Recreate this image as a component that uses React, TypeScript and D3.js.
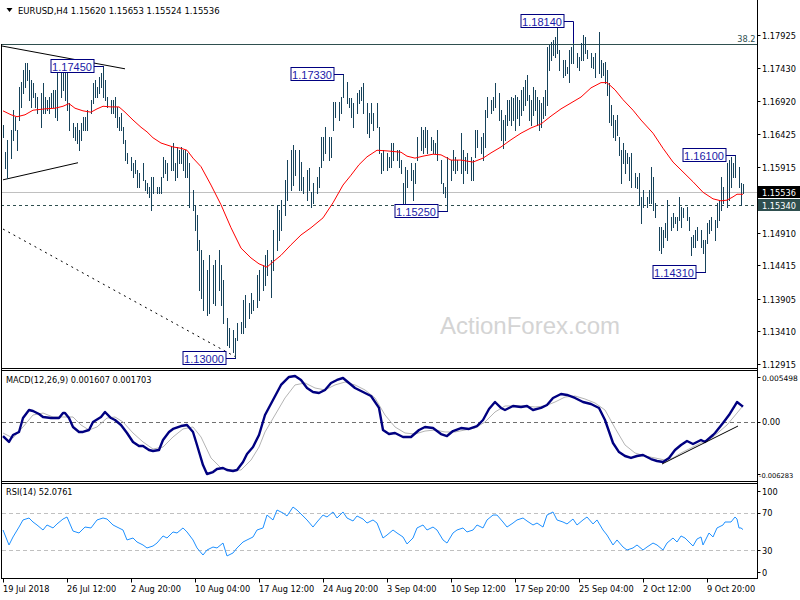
import React from 'react';
import * as d3 from 'd3';

// ---------- DATA ----------
// bar number (4h bars since 19 Jul 2018), high, low
const priceBars: [number, number, number][] = [
  [0,1.1655,1.1637],[1,1.1614,1.1590],[2,1.1633,1.1575],[4,1.1648,1.1605],[5,1.1678,1.1633],
  [6,1.1668,1.1648],[7,1.1648,1.1617],[8,1.1713,1.1663],[9,1.1721,1.1683],[10,1.1739,1.1704],
  [11,1.1750,1.1713],[12,1.1750,1.1724],[13,1.1739,1.1694],[14,1.1724,1.1683],[15,1.1720,1.1698],
  [16,1.1704,1.1683],[17,1.1698,1.1674],[19,1.1704,1.1652],[20,1.1720,1.1674],[21,1.1698,1.1674],
  [22,1.1694,1.1678],[23,1.1698,1.1674],[24,1.1704,1.1683],[25,1.1709,1.1683],[26,1.1709,1.1668],
  [27,1.1739,1.1663],[29,1.1750,1.1698],[30,1.1739,1.1709],[31,1.1735,1.1694],[32,1.1745,1.1678],
  [33,1.1689,1.1648],[35,1.1658,1.1637],[36,1.1652,1.1633],[37,1.1658,1.1628],[38,1.1648,1.1617],
  [39,1.1658,1.1633],[40,1.1668,1.1648],[41,1.1668,1.1648],[42,1.1678,1.1648],[44,1.1694,1.1674],
  [45,1.1720,1.1689],[46,1.1724,1.1698],[47,1.1713,1.1698],[48,1.1728,1.1704],[49,1.1735,1.1713],
  [50,1.1745,1.1698],[51,1.1724,1.1694],[52,1.1698,1.1683],[54,1.1694,1.1674],[55,1.1694,1.1674],
  [56,1.1698,1.1668],[57,1.1683,1.1652],[58,1.1668,1.1648],[59,1.1674,1.1648],[60,1.1652,1.1628],
  [61,1.1633,1.1602],[62,1.1613,1.1598],[64,1.1607,1.1587],[65,1.1598,1.1576],[66,1.1602,1.1582],
  [67,1.1587,1.1561],[68,1.1582,1.1561],[70,1.1598,1.1572],[71,1.1572,1.1556],[72,1.1567,1.1552],
  [73,1.1561,1.1546],[74,1.1576,1.1526],[75,1.1576,1.1552],[77,1.1561,1.1552],[78,1.1561,1.1552],
  [79,1.1576,1.1552],[80,1.1607,1.1576],[81,1.1602,1.1582],[82,1.1598,1.1572],[84,1.1622,1.1587],
  [85,1.1628,1.1587],[86,1.1598,1.1572],[87,1.1622,1.1576],[88,1.1617,1.1598],[89,1.1622,1.1598],
  [90,1.1617,1.1587],[91,1.1617,1.1576],[92,1.1613,1.1576],[93,1.1598,1.1531],[95,1.1556,1.1526],
  [96,1.1534,1.1496],[97,1.1518,1.1465],[98,1.1480,1.1404],[99,1.1465,1.1392],[100,1.1450,1.1373],
  [102,1.1434,1.1366],[103,1.1458,1.1369],[105,1.1442,1.1384],[106,1.1450,1.1381],[108,1.1465,1.1404],
  [109,1.1442,1.1381],[110,1.1419,1.1354],[112,1.1361,1.1320],[113,1.1346,1.1317],[115,1.1343,1.1310],
  [116,1.1331,1.1300],[117,1.1354,1.1328],[119,1.1355,1.1338],[120,1.1389,1.1338],[121,1.1397,1.1348],
  [123,1.1384,1.1361],[124,1.1400,1.1369],[125,1.1389,1.1373],[127,1.1427,1.1378],[128,1.1434,1.1389],
  [130,1.1442,1.1404],[131,1.1458,1.1412],[132,1.1465,1.1427],[134,1.1450,1.1393],[135,1.1496,1.1434],
  [137,1.1534,1.1465],[138,1.1526,1.1480],[139,1.1541,1.1496],[141,1.1572,1.1518],[142,1.1602,1.1541],
  [144,1.1617,1.1556],[145,1.1625,1.1564],[146,1.1617,1.1579],[148,1.1617,1.1556],[149,1.1599,1.1556],
  [150,1.1576,1.1552],[152,1.1587,1.1541],[153,1.1590,1.1556],[154,1.1553,1.1531],[155,1.1567,1.1537],
  [157,1.1576,1.1552],[158,1.1592,1.1561],[159,1.1637,1.1592],[160,1.1637,1.1602],[161,1.1652,1.1613],
  [163,1.1637,1.1602],[164,1.1637,1.1607],[165,1.1690,1.1648],[166,1.1690,1.1668],[168,1.1690,1.1663],
  [169,1.1698,1.1674],[170,1.1733,1.1698],[172,1.1721,1.1689],[173,1.1696,1.1683],[174,1.1696,1.1668],
  [175,1.1689,1.1652],[177,1.1704,1.1674],[178,1.1709,1.1689],[179,1.1713,1.1694],[180,1.1720,1.1674],
  [182,1.1689,1.1643],[183,1.1674,1.1637],[184,1.1689,1.1658],[185,1.1674,1.1648],[187,1.1689,1.1652],
  [188,1.1652,1.1613],[189,1.1613,1.1582],[190,1.1617,1.1587],[192,1.1613,1.1587],[193,1.1607,1.1592],
  [194,1.1628,1.1592],[195,1.1628,1.1602],[197,1.1617,1.1602],[198,1.1617,1.1592],[199,1.1602,1.1582],
  [200,1.1567,1.1537],[201,1.1592,1.1531],[202,1.1587,1.1561],[204,1.1598,1.1572],[205,1.1587,1.1541],
  [206,1.1598,1.1567],[207,1.1637,1.1602],[209,1.1652,1.1617],[210,1.1648,1.1613],[211,1.1652,1.1622],
  [212,1.1648,1.1613],[214,1.1637,1.1617],[215,1.1633,1.1613],[216,1.1628,1.1613],[217,1.1648,1.1602],
  [219,1.1602,1.1567],[220,1.1567,1.1552],[221,1.1561,1.1546],[222,1.1607,1.1525],[224,1.1602,1.1572],
  [225,1.1617,1.1587],[226,1.1607,1.1582],[227,1.1602,1.1587],[229,1.1643,1.1582],[230,1.1617,1.1567],
  [231,1.1607,1.1587],[232,1.1613,1.1582],[234,1.1607,1.1572],[235,1.1602,1.1572],[236,1.1648,1.1607],
  [237,1.1648,1.1622],[239,1.1637,1.1613],[240,1.1643,1.1602],[241,1.1678,1.1622],[242,1.1698,1.1668],
  [244,1.1694,1.1674],[245,1.1698,1.1678],[246,1.1720,1.1683],[248,1.1704,1.1663],[249,1.1678,1.1633],
  [250,1.1663,1.1620],[251,1.1671,1.1633],[252,1.1694,1.1655],[253,1.1694,1.1663],[254,1.1698,1.1655],
  [255,1.1696,1.1663],[256,1.1701,1.1648],[257,1.1698,1.1666],[258,1.1694,1.1655],[259,1.1709,1.1671],
  [260,1.1713,1.1678],[261,1.1724,1.1686],[262,1.1732,1.1694],[263,1.1701,1.1663],[264,1.1694,1.1655],
  [265,1.1713,1.1671],[266,1.1709,1.1678],[267,1.1698,1.1655],[268,1.1694,1.1648],[269,1.1689,1.1652],
  [270,1.1698,1.1666],[271,1.1709,1.1671],[272,1.1774,1.1686],[273,1.1777,1.1739],[274,1.1782,1.1754],
  [275,1.1785,1.1762],[276,1.1789,1.1759],[277,1.1805,1.1765],[278,1.1770,1.1739],[280,1.1754,1.1728],
  [281,1.1754,1.1732],[282,1.1744,1.1735],[283,1.1770,1.1721],[284,1.1774,1.1750],[285,1.1780,1.1750],
  [287,1.1765,1.1744],[288,1.1759,1.1739],[289,1.1780,1.1754],[290,1.1793,1.1754],[291,1.1789,1.1765],
  [292,1.1770,1.1757],[294,1.1765,1.1744],[295,1.1759,1.1742],[296,1.1765,1.1728],[298,1.1797,1.1735],
  [299,1.1754,1.1728],[300,1.1750,1.1732],[301,1.1751,1.1720],[302,1.1739,1.1701],[303,1.1720,1.1660],
  [304,1.1686,1.1655],[305,1.1671,1.1637],[306,1.1663,1.1633],[307,1.1671,1.1640],[308,1.1637,1.1610],
  [309,1.1617,1.1567],[310,1.1628,1.1598],[311,1.1617,1.1582],[312,1.1613,1.1598],[313,1.1607,1.1572],
  [314,1.1613,1.1561],[316,1.1582,1.1561],[317,1.1576,1.1560],[318,1.1582,1.1534],[319,1.1546,1.1506],
  [320,1.1556,1.1531],[322,1.1546,1.1531],[323,1.1556,1.1537],[324,1.1592,1.1537],[325,1.1576,1.1526],
  [326,1.1537,1.1515],[328,1.1500,1.1465],[329,1.1500,1.1461],[330,1.1496,1.1470],[331,1.1506,1.1485],
  [332,1.1541,1.1480],[334,1.1515,1.1496],[335,1.1521,1.1500],[336,1.1515,1.1506],[337,1.1515,1.1496],
  [338,1.1546,1.1511],[339,1.1531,1.1500],[340,1.1529,1.1515],[342,1.1531,1.1511],[343,1.1515,1.1496],
  [344,1.1485,1.1458],[345,1.1488,1.1470],[346,1.1496,1.1470],[347,1.1500,1.1480],[349,1.1496,1.1470],
  [350,1.1480,1.1461],[351,1.1480,1.1431],[352,1.1506,1.1476],[353,1.1511,1.1491],[354,1.1515,1.1496],
  [356,1.1511,1.1480],[357,1.1537,1.1500],[358,1.1541,1.1511],[359,1.1576,1.1526],[360,1.1561,1.1537],
  [362,1.1598,1.1531],[363,1.1602,1.1541],[364,1.1607,1.1561],[365,1.1598,1.1576],[366,1.1610,1.1576],
  [368,1.1592,1.1561],[369,1.1567,1.1534],[370,1.15653,1.15524],
];

const movingAverage: [number, number][] = [
  [0,1.1677],[4,1.1671],[7,1.1668],[11,1.1671],[15,1.1678],[21,1.1680],[26,1.1681],[30,1.1684],
  [33,1.1688],[36,1.1681],[40,1.1677],[44,1.1675],[47,1.1680],[50,1.1684],[54,1.1683],[58,1.1683],
  [61,1.1675],[65,1.1663],[69,1.1652],[72,1.1645],[75,1.1636],[79,1.1628],[82,1.1625],[85,1.1622],
  [89,1.1620],[92,1.1617],[95,1.1605],[99,1.1592],[104,1.1564],[109,1.1534],[114,1.1499],[119,1.1468],
  [124,1.1453],[128,1.1444],[132,1.1439],[135,1.1447],[139,1.1457],[144,1.1473],[149,1.1488],[154,1.1499],
  [160,1.1514],[165,1.1537],[170,1.1564],[174,1.1579],[178,1.1595],[182,1.1607],[187,1.1617],[192,1.1616],
  [199,1.1614],[202,1.1608],[206,1.1605],[210,1.1608],[215,1.1611],[219,1.1610],[224,1.1602],[229,1.1602],
  [235,1.1599],[240,1.1605],[244,1.1613],[249,1.1622],[254,1.1633],[259,1.1643],[264,1.1651],[269,1.1657],
  [274,1.1669],[279,1.1680],[289,1.1698],[294,1.1712],[299,1.1720],[302,1.1720],[306,1.1709],[310,1.1694],
  [315,1.1678],[319,1.1663],[325,1.1643],[330,1.1620],[335,1.1599],[340,1.1584],[345,1.1569],[350,1.1553],
  [355,1.1543],[359,1.1540],[362,1.1541],[365,1.1546],[367,1.1550],[370,1.1550],
];

const macdMain: [number, number][] = [
  [0,-0.00151],[3,-0.00214],[5,-0.00140],[8,-0.00108],[10,0.00040],[13,0.00125],[15,0.00115],[18,0.00083],
  [20,0.00051],[24,0.00040],[28,0.00040],[30,0.00093],[31,0.00093],[33,0.00040],[35,-0.00055],[38,-0.00108],
  [40,-0.00108],[43,-0.00087],[45,-0.00002],[49,0.00051],[51,0.00104],[54,0.00040],[56,0.00019],[59,-0.00034],
  [62,-0.00119],[65,-0.00214],[68,-0.00257],[70,-0.00257],[73,-0.00299],[75,-0.00310],[78,-0.00299],[80,-0.00193],
  [83,-0.00108],[85,-0.00076],[89,-0.00045],[92,-0.00034],[95,-0.00108],[97,-0.00246],[100,-0.00459],[102,-0.00554],
  [105,-0.00533],[107,-0.00501],[110,-0.00490],[112,-0.00512],[115,-0.00522],[117,-0.00512],[120,-0.00427],[122,-0.00342],
  [125,-0.00268],[128,-0.00140],[131,0.00072],[135,0.00231],[139,0.00391],[143,0.00476],[146,0.00486],[149,0.00444],
  [152,0.00359],[155,0.00316],[158,0.00306],[161,0.00338],[164,0.00412],[167,0.00444],[170,0.00465],[173,0.00412],
  [176,0.00359],[180,0.00316],[184,0.00274],[188,0.00147],[190,-0.00087],[193,-0.00130],[196,-0.00119],[200,-0.00161],
  [204,-0.00161],[208,-0.00087],[211,-0.00055],[215,-0.00066],[219,-0.00130],[222,-0.00151],[225,-0.00098],[229,-0.00066],
  [233,-0.00076],[237,-0.00045],[240,0.00019],[243,0.00136],[246,0.00210],[249,0.00147],[251,0.00125],[255,0.00168],
  [259,0.00157],[262,0.00168],[265,0.00125],[269,0.00147],[272,0.00178],[275,0.00253],[279,0.00295],[282,0.00285],
  [286,0.00253],[290,0.00210],[294,0.00189],[298,0.00147],[301,0.00019],[305,-0.00225],[308,-0.00321],[311,-0.00363],
  [314,-0.00384],[317,-0.00363],[320,-0.00352],[324,-0.00395],[327,-0.00416],[330,-0.00427],[333,-0.00384],[336,-0.00299],
  [339,-0.00246],[342,-0.00204],[345,-0.00236],[349,-0.00193],[351,-0.00214],[355,-0.00140],[356,-0.00119],[360,-0.00013],
  [363,0.00072],[367,0.00210],[370,0.001607],
];

const macdSignal: [number, number][] = [
  [0,-0.00119],[5,-0.00172],[10,-0.00055],[15,0.00072],[20,0.00093],[25,0.00051],[30,0.00051],[35,0.00051],
  [39,-0.00034],[43,-0.00087],[47,-0.00055],[52,0.00040],[56,0.00051],[60,-0.00002],[65,-0.00119],[70,-0.00214],
  [75,-0.00289],[80,-0.00268],[85,-0.00161],[90,-0.00076],[95,-0.00055],[99,-0.00161],[104,-0.00384],[109,-0.00490],
  [114,-0.00512],[119,-0.00512],[124,-0.00406],[128,-0.00268],[131,-0.00108],[136,0.00072],[141,0.00253],[146,0.00391],
  [151,0.00412],[156,0.00359],[161,0.00338],[166,0.00391],[171,0.00422],[176,0.00391],[181,0.00338],[186,0.00253],
  [191,0.00072],[196,-0.00055],[201,-0.00119],[206,-0.00130],[211,-0.00098],[216,-0.00087],[221,-0.00108],[226,-0.00108],
  [231,-0.00087],[236,-0.00066],[241,-0.00002],[246,0.00104],[251,0.00168],[256,0.00168],[261,0.00168],[266,0.00157],
  [271,0.00168],[276,0.00210],[281,0.00263],[286,0.00274],[291,0.00242],[296,0.00200],[301,0.00125],[306,-0.00066],
  [311,-0.00246],[316,-0.00331],[321,-0.00363],[326,-0.00384],[331,-0.00406],[335,-0.00384],[339,-0.00331],[349,-0.00225],
  [355,-0.00161],[362,-0.00034],[367,0.00093],[370,0.001703],
];

const rsiValues: [number, number][] = [
  [0,51.6],[3,35.5],[5,44.1],[8,54.8],[10,62.4],[13,64.5],[15,60.2],[17,57.0],[20,51.6],[22,57.0],
  [25,53.8],[27,58.1],[30,63.4],[32,65.6],[35,50.5],[38,48.4],[41,54.8],[44,53.8],[47,62.4],[50,64.5],
  [52,63.4],[55,57.0],[57,54.8],[60,51.6],[62,40.9],[65,43.0],[67,38.7],[70,35.5],[72,32.3],[75,34.4],
  [77,37.6],[80,45.2],[82,43.0],[85,49.5],[87,48.4],[90,53.8],[92,49.5],[95,40.9],[97,32.3],[100,24.7],
  [102,30.1],[105,33.3],[107,32.3],[110,37.6],[112,23.7],[115,26.9],[117,32.3],[120,38.7],[122,40.9],[125,44.1],
  [127,51.6],[130,53.8],[132,67.7],[135,62.4],[137,73.1],[140,69.9],[142,66.7],[145,76.3],[147,73.1],[150,66.7],
  [152,62.4],[155,54.8],[157,60.2],[160,67.7],[162,65.6],[165,71.0],[167,64.5],[170,71.0],[172,64.5],[175,61.3],
  [177,66.7],[180,63.4],[182,59.1],[185,62.4],[187,59.1],[190,43.0],[192,46.2],[195,51.6],[197,48.4],[200,44.1],
  [202,36.6],[205,43.0],[207,53.8],[210,57.0],[212,51.6],[215,54.8],[217,51.6],[220,40.9],[222,37.6],[225,48.4],
  [227,51.6],[230,53.8],[232,49.5],[235,51.6],[237,57.0],[240,53.8],[242,62.4],[245,67.7],[247,67.7],[250,60.2],
  [252,54.8],[255,59.1],[257,62.4],[260,64.5],[262,61.3],[265,57.0],[267,59.1],[270,54.8],[272,67.7],[275,71.0],
  [277,62.4],[280,60.2],[282,58.1],[285,63.4],[287,57.0],[290,62.4],[292,65.6],[295,58.1],[297,62.4],[300,51.6],
  [302,46.2],[305,35.5],[307,40.9],[310,33.3],[312,30.1],[315,32.3],[317,35.5],[320,30.1],[322,33.3],[325,37.6],
  [327,35.5],[330,30.1],[332,37.6],[335,43.0],[337,38.7],[339,45.2],[341,43.0],[345,34.4],[347,41.9],[349,44.1],
  [350,35.5],[353,48.4],[355,44.1],[357,53.8],[360,57.0],[361,60.2],[364,60.2],[366,65.6],[367,63.4],[368,53.8],
  [369,53.8],[370,52.0761],
];

const timeTickBars = [0, 32, 64, 96, 128, 160, 192, 224, 256, 288, 320, 352];
const timeTickLabels = ['19 Jul 2018', '26 Jul 12:00', '2 Aug 20:00', '10 Aug 04:00', '17 Aug 12:00',
  '24 Aug 20:00', '3 Sep 04:00', '10 Sep 12:00', '17 Sep 20:00', '25 Sep 04:00', '2 Oct 12:00', '9 Oct 20:00'];

const priceTicks = [1.17925, 1.1743, 1.1692, 1.16425, 1.15915, 1.1491, 1.14415, 1.13905, 1.1341, 1.12915];
const macdTicks = [0.005498, 0, -0.006283];
const macdTickLabels = ['0.005498', '0.00', '-0.006283'];
const rsiTicks = [100, 70, 30, 0];
const rsiLevels = [70, 30];

const swingPrices = [1.1745, 1.1733, 1.1814, 1.1525, 1.13, 1.161, 1.1431];
const swingBars = [50, 170, 285, 222, 116, 366, 351];
const swingIsHigh = [true, true, true, false, false, true, false];

const upperTrend: [number, number][] = [[-1, 1.1776], [61, 1.1741]];
const lowerTrend: [number, number][] = [[0, 1.1572], [37.5, 1.1598]];
const dashedTrend: [number, number][] = [[0, 1.1497], [116.5, 1.1302]];
const macdTrend: [number, number][] = [[329.5, -0.00448], [367.5, -0.00045]];

const fiboLevel = 1.1779;
const supportLevel = 1.1534;
const lastPrice = 1.15536;
const headerText = 'EURUSD,H4  1.15620 1.15653 1.15524 1.15536';
const macdTitle = 'MACD(12,26,9) 0.001607 0.001703';
const rsiTitle = 'RSI(14) 52.0761';

// ---------- LAYOUT ----------
const W = 800, H = 600;
const AXIS_X = 757.5;
const MAIN_BOTTOM = 368.5;
const MACD_TOP = 370.5, MACD_BOTTOM = 481.5;
const RSI_TOP = 483.5, RSI_BOTTOM = 578.5;
const BAR_COLOR = '#17435b';
const FONT = '"DejaVu Sans", Verdana, sans-serif';
const FS = 8.2;
const LABEL_FONT = '"Liberation Sans", Arial, sans-serif';

const xs = d3.scaleLinear().domain([0, 370]).range([3, 743]);
const yMain = d3.scaleLinear().domain([1.12915, 1.17925]).range([364, 35]);
const yMacd = d3.scaleLinear().domain([-0.006283, 0.005498]).range([481, 370]);
const yRsi = d3.scaleLinear().domain([0, 100]).range([578, 485]);

const px = (v: number) => Math.round(v) + 0.5;

export default function App() {
  const maLine = d3.line<[number, number]>().x(d => xs(d[0])).y(d => yMain(d[1]))(movingAverage) || '';
  const macdLine = d3.line<[number, number]>().x(d => xs(d[0])).y(d => yMacd(d[1]))(macdMain) || '';
  const sigLine = d3.line<[number, number]>().x(d => xs(d[0])).y(d => yMacd(d[1]))(macdSignal) || '';
  const rsiLine = d3.line<[number, number]>().x(d => xs(d[0])).y(d => yRsi(d[1]))(rsiValues) || '';
  const mainLine = d3.line<[number, number]>().x(d => xs(d[0])).y(d => yMain(d[1]));
  const macdTrendPath = d3.line<[number, number]>().x(d => xs(d[0])).y(d => yMacd(d[1]))(macdTrend) || '';

  const barByN = new Map(priceBars.map(b => [b[0], b]));

  return (
    <div style={{ position: 'fixed', left: 0, top: 0, width: W, height: H, background: '#fff' }}>
      <svg width={W} height={H} style={{ display: 'block', background: '#fff' }}>
        <defs>
          <clipPath id="mainClip"><rect x={2} y={0} width={AXIS_X - 2} height={MAIN_BOTTOM} /></clipPath>
          <clipPath id="macdClip"><rect x={2} y={MACD_TOP} width={AXIS_X - 2} height={MACD_BOTTOM - MACD_TOP} /></clipPath>
          <clipPath id="rsiClip"><rect x={2} y={RSI_TOP} width={AXIS_X - 2} height={RSI_BOTTOM - RSI_TOP} /></clipPath>
        </defs>
        <rect x={0} y={0} width={W} height={H} fill="#fff" />

        {/* header */}
        <path d="M6.5,8 L12.5,8 L9.5,12 Z" fill="#000" />
        <text x={18} y={14} fontFamily={FONT} fontSize={8.5} fill="#000">{headerText}</text>

        {/* main panel */}
        <g clipPath="url(#mainClip)">
          <line x1={1} x2={AXIS_X} y1={px(yMain(fiboLevel))} y2={px(yMain(fiboLevel))} stroke="#2f4f4f" strokeWidth={1} />
          <line x1={1} x2={AXIS_X} y1={px(yMain(lastPrice))} y2={px(yMain(lastPrice))} stroke="#c0c0c0" strokeWidth={1} />
          <line x1={1} x2={AXIS_X} y1={px(yMain(supportLevel))} y2={px(yMain(supportLevel))} stroke="#2f4f4f" strokeWidth={1} strokeDasharray="3,3" />
          <path d={mainLine(upperTrend) || ''} stroke="#000" strokeWidth={1} fill="none" />
          <path d={mainLine(lowerTrend) || ''} stroke="#000" strokeWidth={1} fill="none" />
          <path d={mainLine(dashedTrend) || ''} stroke="#000" strokeWidth={1} fill="none" strokeDasharray="2,4" />
          <text x={440} y={334} fontFamily={LABEL_FONT} fontSize={24} fill="#d4d4d4">ActionForex.com</text>
          {priceBars.map(b => (
            <line key={b[0]} x1={px(xs(b[0]))} x2={px(xs(b[0]))} y1={Math.round(yMain(b[1]))} y2={Math.round(yMain(b[2])) + 1}
              stroke={BAR_COLOR} strokeWidth={1} shapeRendering="crispEdges" />
          ))}
          <path d={maLine} stroke="#ff0000" strokeWidth={1} fill="none" />
          <text x={AXIS_X - 2} y={yMain(fiboLevel) - 2} textAnchor="end" fontFamily={FONT} fontSize={FS} fill="#2f4f4f">38.2</text>
          {swingPrices.map((p, i) => {
            const bx = px(xs(swingBars[i]));
            const y = Math.round(yMain(p));
            const right = bx - 10;
            const bw = 43, bh = 13;
            const bar = barByN.get(swingBars[i]);
            const endY = bar ? Math.round(yMain(swingIsHigh[i] ? bar[1] : bar[2])) : y;
            return (
              <g key={i}>
                <polyline points={`${right},${y + 0.5} ${bx},${y + 0.5} ${bx},${endY}`} fill="none" stroke="#000080" strokeWidth={1} />
                <rect x={right - bw + 0.5} y={y - bh / 2} width={bw} height={bh} fill="#fff" stroke="#000080" strokeWidth={1} />
                <text x={right - bw / 2} y={y + 4.5} textAnchor="middle" fontFamily={LABEL_FONT} fontSize={11} fill="#1a1aa8">{p.toFixed(5)}</text>
              </g>
            );
          })}
        </g>

        {/* macd panel */}
        <g clipPath="url(#macdClip)">
          <line x1={2} x2={AXIS_X} y1={px(yMacd(0))} y2={px(yMacd(0))} stroke="#707070" strokeDasharray="4,3" />
          <path d={sigLine} stroke="#b4b4b4" strokeWidth={1} fill="none" />
          <path d={macdLine} stroke="#000080" strokeWidth={2.4} fill="none" strokeLinejoin="round" />
          <path d={macdTrendPath} stroke="#000" strokeWidth={1} fill="none" />
        </g>
        <text x={6} y={383} fontFamily={FONT} fontSize={FS} fill="#000">{macdTitle}</text>

        {/* rsi panel */}
        <g clipPath="url(#rsiClip)">
          {rsiLevels.map(l => (
            <line key={l} x1={2} x2={AXIS_X} y1={px(yRsi(l))} y2={px(yRsi(l))} stroke="#c0c0c0" strokeDasharray="4,3" />
          ))}
          <path d={rsiLine} stroke="#1e90ff" strokeWidth={1} fill="none" />
        </g>
        <text x={6} y={495} fontFamily={FONT} fontSize={FS} fill="#000">{rsiTitle}</text>

        {/* frames */}
        <g stroke="#000" strokeWidth={1} shapeRendering="crispEdges">
          <line x1={1.5} x2={1.5} y1={44} y2={RSI_BOTTOM} />
          <line x1={AXIS_X} x2={AXIS_X} y1={0} y2={RSI_BOTTOM} />
          <line x1={1} x2={AXIS_X} y1={MAIN_BOTTOM} y2={MAIN_BOTTOM} />
          <line x1={1} x2={AXIS_X} y1={MACD_TOP} y2={MACD_TOP} />
          <line x1={1} x2={AXIS_X} y1={MACD_BOTTOM} y2={MACD_BOTTOM} />
          <line x1={1} x2={AXIS_X} y1={RSI_TOP} y2={RSI_TOP} />
          <line x1={1} x2={AXIS_X} y1={RSI_BOTTOM} y2={RSI_BOTTOM} />
        </g>

        {/* price axis */}
        {priceTicks.map(t => {
          const y = Math.round(yMain(t));
          return (
            <g key={t}>
              <line x1={AXIS_X} x2={AXIS_X + 3} y1={y + 0.5} y2={y + 0.5} stroke="#000" />
              <text x={762} y={y + 3.5} fontFamily={FONT} fontSize={FS} fill="#000">{t.toFixed(5)}</text>
            </g>
          );
        })}
        <rect x={758} y={Math.round(yMain(lastPrice)) - 6} width={42} height={12} fill="#000" />
        <text x={762} y={Math.round(yMain(lastPrice)) + 3.5} fontFamily={FONT} fontSize={FS} fill="#fff">{lastPrice.toFixed(5)}</text>
        <rect x={758} y={Math.round(yMain(supportLevel)) - 6} width={42} height={12} fill="#2f4f4f" />
        <text x={762} y={Math.round(yMain(supportLevel)) + 3.5} fontFamily={FONT} fontSize={FS} fill="#fff">{supportLevel.toFixed(5)}</text>

        {/* macd axis */}
        {macdTicks.map((t, i) => {
          const y = Math.min(Math.max(yMacd(t), 377), 474);
          const size = t < 0 ? 6.7 : t > 0 ? 7.5 : FS;
          return (
            <g key={t}>
              <line x1={AXIS_X} x2={AXIS_X + 3} y1={px(y)} y2={px(y)} stroke="#000" />
              <text x={t < 0 ? 759 : 762} y={y + 3.5} fontFamily={FONT} fontSize={size} fill="#000">{macdTickLabels[i]}</text>
            </g>
          );
        })}

        {/* rsi axis */}
        {rsiTicks.map(t => {
          const y = Math.min(Math.max(yRsi(t), 491), 572);
          return (
            <g key={t}>
              <line x1={AXIS_X} x2={AXIS_X + 3} y1={px(y)} y2={px(y)} stroke="#000" />
              <text x={762} y={y + 3.5} fontFamily={FONT} fontSize={FS} fill="#000">{t}</text>
            </g>
          );
        })}

        {/* time axis */}
        {timeTickBars.map((n, i) => {
          const x = px(xs(n));
          return (
            <g key={n}>
              <line x1={x} x2={x} y1={RSI_BOTTOM} y2={RSI_BOTTOM + 4} stroke="#000" />
              <text x={x - 0.5} y={592} fontFamily={FONT} fontSize={FS} fill="#000">{timeTickLabels[i]}</text>
            </g>
          );
        })}
      </svg>
    </div>
  );
}
